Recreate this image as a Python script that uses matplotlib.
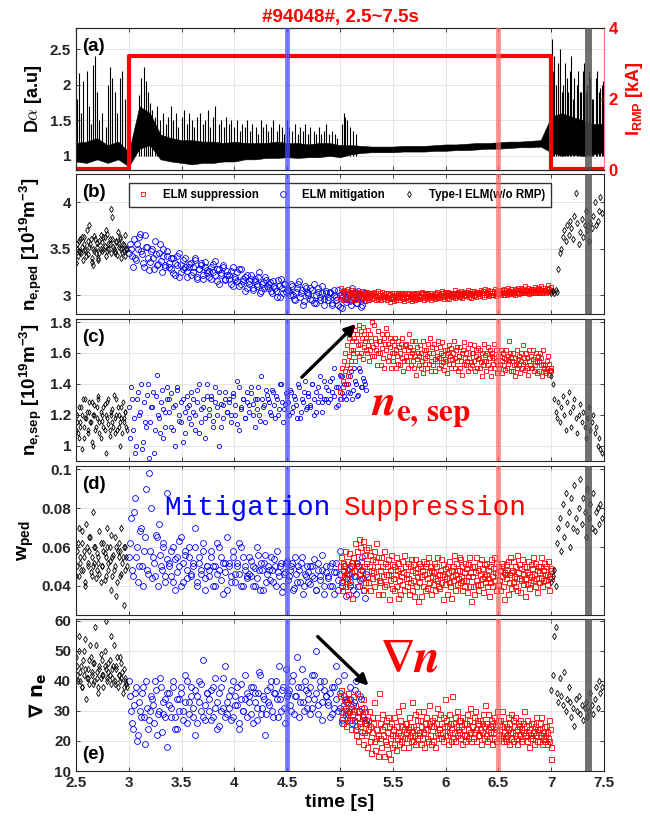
import matplotlib

matplotlib.use("Agg")

import matplotlib.pyplot as plt
import numpy as np
from matplotlib.ticker import FuncFormatter

# ---- panel (a): D-alpha envelope (every 0.1 s) and ELM spikes, RMP coil current
DA_T = np.linspace(2.5, 7.5, 51)
DA_LO = [0.92, 0.9, 0.95, 0.9, 0.95, 0.85, 1.1, 1.15, 0.95, 0.92,
         0.9, 0.88, 0.9, 0.9, 0.92, 0.92, 0.95, 0.95, 0.97, 0.97,
         0.98, 0.97, 0.98, 0.98, 1.0, 0.98, 1.02, 1.04, 1.05, 1.05,
         1.05, 1.06, 1.06, 1.06, 1.07, 1.07, 1.08, 1.08, 1.09, 1.1,
         1.1, 1.11, 1.12, 1.12, 1.13, 1.05, 1.0, 1.02, 1.0, 1.02, 1.05]
DA_HI = [1.18, 1.2, 1.25, 1.15, 1.2, 1.05, 1.7, 1.6, 1.3, 1.25,
         1.22, 1.22, 1.2, 1.2, 1.18, 1.2, 1.18, 1.18, 1.18, 1.2,
         1.18, 1.18, 1.16, 1.18, 1.18, 1.15, 1.15, 1.14, 1.13, 1.13,
         1.13, 1.14, 1.14, 1.14, 1.15, 1.16, 1.16, 1.17, 1.18, 1.18,
         1.19, 1.2, 1.2, 1.21, 1.22, 1.55, 1.6, 1.55, 1.5, 1.45, 1.45]
SPK_T = [2.51, 2.53, 2.55, 2.57, 2.6, 2.62, 2.64, 2.66, 2.68, 2.7, 2.72, 2.75, 2.78,
         2.8, 2.82, 2.84, 2.87, 2.89, 2.92, 2.94, 2.96, 2.98,
         3.1, 3.12, 3.14, 3.16, 3.18, 3.2, 3.22,
         3.25, 3.27, 3.3, 3.32, 3.35, 3.37, 3.4, 3.42, 3.45, 3.47, 3.5, 3.52, 3.55,
         3.57, 3.6, 3.62, 3.65, 3.67, 3.7, 3.72, 3.75, 3.77, 3.8, 3.82, 3.85, 3.87,
         3.9, 3.92, 3.95, 3.97, 4.0, 4.02, 4.05, 4.07, 4.1, 4.12, 4.15, 4.17, 4.2,
         4.22, 4.25, 4.27, 4.3, 4.32, 4.35, 4.37, 4.4, 4.42, 4.45, 4.47, 4.5, 4.52,
         4.55, 4.57, 4.6, 4.62, 4.65, 4.67, 4.7, 4.72, 4.75, 4.77, 4.8, 4.82, 4.85,
         4.87, 4.9, 4.92, 4.95, 4.97,
         5.02, 5.04, 5.05, 5.07, 5.09, 5.12, 5.15,
         7.01, 7.02, 7.03, 7.05, 7.06, 7.08, 7.1, 7.11, 7.13, 7.15, 7.16, 7.18, 7.19,
         7.21, 7.22, 7.24, 7.25, 7.27, 7.28, 7.3, 7.31, 7.33, 7.34, 7.36, 7.37, 7.39,
         7.4, 7.42, 7.43, 7.45, 7.46, 7.48, 7.49]
SPK_V = [1.8, 2.17, 1.6, 2.05, 2.2, 1.7, 1.45, 2.28, 2.4, 1.9, 1.5, 1.6, 1.4,
         2.0, 2.25, 2.1, 1.9, 1.6, 2.1, 2.2, 1.8, 2.05,
         1.85, 2.1, 2.25, 2.05, 1.9, 1.75, 1.65,
         1.55, 1.7, 1.5, 1.6, 1.45, 1.55, 1.7, 1.5, 1.6, 1.4, 1.55, 1.65, 1.45,
         1.6, 1.5, 1.4, 1.55, 1.6, 1.45, 1.5, 1.65, 1.4, 1.55, 1.7, 1.45, 1.5,
         1.4, 1.55, 1.45, 1.5, 1.4, 1.5, 1.35, 1.45, 1.4, 1.5, 1.35, 1.45, 1.4,
         1.3, 1.5, 1.4, 1.45, 1.35, 1.4, 1.5, 1.35, 1.45, 1.4, 1.3, 1.5, 1.4,
         1.35, 1.45, 1.3, 1.4, 1.35, 1.45, 1.3, 1.4, 1.35, 1.3, 1.4, 1.3, 1.35,
         1.45, 1.3, 1.35, 1.3, 1.25,
         1.45, 1.6, 1.55, 1.5, 1.4, 1.35, 1.3,
         2.65, 2.2, 2.4, 2.0, 2.3, 2.5, 1.9, 2.0, 2.3, 2.1, 1.9, 2.2, 2.4,
         1.8, 2.1, 2.0, 2.2, 1.9, 1.9, 2.2, 2.3, 1.9, 2.0, 2.2, 2.1, 1.8,
         1.8, 2.1, 2.2, 1.9, 1.95, 2.0, 2.05]
IRMP_T = [2.5, 3.0, 3.0, 7.0, 7.0, 7.5]
IRMP_V = [0.04, 0.04, 3.2, 3.2, 0.04, 0.04]

# ---- phase time windows: Type-I before RMP, mitigation, suppression, Type-I after
T_PRE = (2.5, 2.98)
T_MIT = (3.0, 5.25)
T_SUP = (5.0, 7.0)
T_POST = (7.0, 7.48)

# ---- (b) n_e,ped  (two sample sets per phase for pre/mitigation)
NPED_PRE = [3.35, 3.55, 3.48, 3.6, 3.45, 3.52, 3.62, 3.5, 3.42, 3.58, 3.75, 3.55, 3.4, 3.33,
            3.47, 3.6, 3.52, 3.38, 3.45, 3.65, 3.57, 3.5, 3.62, 3.7, 3.48, 3.55, 3.6, 3.92,
            3.84, 3.5, 3.45, 3.58, 3.68, 3.52, 3.62, 3.4, 3.55, 3.48, 3.65, 3.5]
NPED_PRE_B = [3.5, 3.42, 3.58, 3.46, 3.62, 3.38, 3.55, 3.48, 3.7, 3.44, 3.52, 3.6, 3.36,
              3.5, 3.64, 3.45, 3.56, 3.4, 3.58, 3.5, 3.47, 3.62, 3.53, 3.42, 3.66, 3.5,
              3.55, 3.45, 3.6, 3.52, 3.48, 3.57, 3.43, 3.55, 3.6, 3.5, 3.46, 3.54, 3.42, 3.5]
NPED_MIT = [3.45, 3.5, 3.3, 3.4, 3.55, 3.62, 3.48, 3.35, 3.65, 3.52,
            3.27, 3.47, 3.4, 3.58, 3.32, 3.45, 3.37, 3.5, 3.3, 3.42,
            3.35, 3.28, 3.4, 3.22, 3.33, 3.45, 3.25, 3.38, 3.3, 3.2,
            3.3, 3.35, 3.25, 3.4, 3.18, 3.28, 3.32, 3.22, 3.36, 3.27,
            3.2, 3.3, 3.25, 3.37, 3.15, 3.28, 3.22, 3.32, 3.18, 3.26,
            3.22, 3.12, 3.3, 3.18, 3.25, 3.1, 3.28, 3.15, 3.2, 3.08,
            3.15, 3.22, 3.08, 3.18, 3.12, 3.25, 3.05, 3.14, 3.2, 3.1,
            3.12, 3.05, 3.15, 3.08, 2.98, 3.1, 3.18, 3.02, 3.12, 3.06,
            3.05, 3.12, 3.0, 2.95, 3.08, 3.15, 3.02, 2.9, 3.1, 3.04,
            3.0, 3.08, 2.95, 3.12, 2.92, 3.04, 2.98, 3.1, 2.96, 3.02,
            2.95, 3.02, 2.92, 3.06, 2.98, 2.9, 3.0, 2.86, 3.04, 2.96,
            3.0, 2.94, 3.08, 2.96, 2.92, 3.05, 2.98, 2.9, 3.02, 2.95]
NPED_MIT_B = [3.55, 3.42, 3.6, 3.38, 3.5, 3.66, 3.44, 3.3, 3.52, 3.4,
              3.36, 3.5, 3.28, 3.44, 3.34, 3.55, 3.25, 3.42, 3.32, 3.48,
              3.3, 3.4, 3.24, 3.35, 3.42, 3.2, 3.32, 3.28, 3.4, 3.26,
              3.34, 3.22, 3.3, 3.38, 3.2, 3.28, 3.35, 3.18, 3.3, 3.24,
              3.26, 3.18, 3.34, 3.22, 3.28, 3.12, 3.24, 3.3, 3.16, 3.22,
              3.18, 3.26, 3.1, 3.2, 3.15, 3.28, 3.12, 3.18, 3.05, 3.22,
              3.12, 3.18, 3.06, 3.15, 3.1, 3.2, 3.02, 3.12, 3.08, 3.16,
              3.08, 3.14, 3.02, 3.1, 3.05, 3.16, 2.98, 3.08, 3.12, 3.04,
              3.06, 3.0, 3.1, 2.96, 3.04, 3.12, 2.98, 3.06, 2.94, 3.08,
              3.02, 2.96, 3.06, 2.92, 3.0, 3.08, 2.95, 3.03, 2.9, 3.05,
              2.98, 3.04, 2.9, 3.0, 2.95, 3.06, 2.88, 2.98, 3.02, 2.93,
              2.96, 3.02, 2.9, 2.98, 3.04, 2.92, 3.0, 2.88, 2.97, 3.03]
NPED_SUP = [2.96, 3.02, 3.08, 2.98, 3.04, 2.95, 3.06, 3.0, 2.97, 3.05,
            3.03, 2.96, 3.07, 2.99, 3.01, 2.94, 3.04, 2.98, 3.06, 3.0,
            2.97, 3.03, 2.99, 3.05, 2.95, 3.01, 2.98, 3.04, 2.96, 3.02,
            3.0, 2.96, 3.03, 2.98, 3.05, 2.97, 3.01, 2.94, 3.02, 2.99,
            2.99, 3.04, 2.97, 3.01, 2.95, 3.03, 2.98, 3.0, 2.96, 3.02,
            3.01, 2.97, 3.04, 2.99, 2.95, 3.02, 2.98, 3.05, 2.96, 3.0,
            2.97, 3.02, 2.95, 3.0, 3.04, 2.98, 2.96, 3.01, 2.99, 3.03,
            2.98, 2.95, 3.02, 2.97, 3.0, 2.93, 3.01, 2.96, 3.03, 2.98,
            2.96, 3.0, 2.94, 2.99, 3.02, 2.95, 2.98, 3.01, 2.97, 3.03,
            2.99, 2.95, 3.01, 2.97, 3.03, 2.96, 3.0, 2.94, 3.02, 2.98,
            2.97, 3.01, 2.95, 2.99, 3.02, 2.96, 2.98, 3.0, 2.94, 3.01,
            2.98, 2.96, 3.02, 2.99, 2.95, 3.01, 2.97, 3.03, 2.96, 2.99,
            3.0, 2.96, 3.02, 2.98, 3.04, 2.97, 3.01, 2.95, 3.03, 2.99,
            2.98, 3.01, 2.96, 3.03, 2.99, 2.97, 3.02, 2.95, 3.0, 2.98,
            2.97, 3.0, 2.99, 3.03, 2.96, 3.01, 2.98, 3.04, 2.97, 3.0,
            3.01, 2.97, 3.03, 2.99, 3.05, 2.98, 3.02, 2.96, 3.04, 3.0,
            2.99, 3.02, 2.97, 3.04, 3.0, 2.96, 3.03, 2.98, 3.01, 2.99,
            2.98, 3.02, 3.0, 3.06, 2.97, 3.03, 2.99, 3.01, 3.04, 2.98,
            3.0, 3.03, 2.98, 3.05, 3.01, 2.97, 3.02, 3.0, 3.04, 2.99,
            3.02, 2.99, 3.04, 3.0, 3.06, 2.98, 3.03, 3.01, 2.97, 3.05,
            3.01, 3.03, 2.99, 3.05, 3.0, 3.02, 2.98, 3.04, 3.01, 3.03,
            3.01, 3.04, 2.99, 3.06, 3.02, 3.0, 3.05, 2.98, 3.03, 3.07,
            3.02, 3.0, 3.04, 3.01, 3.06, 2.99, 3.03, 3.05, 3.0, 3.02,
            3.03, 3.0, 3.05, 3.02, 3.07, 2.99, 3.04, 3.01, 3.06, 3.03,
            3.01, 3.05, 3.02, 3.0, 3.06, 3.03, 3.04, 3.0, 3.07, 3.02,
            3.02, 3.06, 3.0, 3.04, 3.08, 3.01, 3.05, 3.03, 3.07, 3.02,
            3.04, 3.01, 3.05, 3.03, 3.07, 3.0, 3.06, 3.02, 3.04, 3.08,
            3.04, 3.01, 3.06, 3.03, 3.08, 3.02, 3.05, 3.07, 3.03, 3.1,
            3.03, 3.06, 3.02, 3.05, 3.08, 3.04, 3.01, 3.06, 3.03, 3.07,
            3.05, 3.02, 3.07, 3.04, 3.09, 3.03, 3.06, 3.02, 3.05, 3.08,
            3.04, 3.07, 3.03, 3.06, 3.1, 3.02, 3.05, 3.08, 3.04, 3.06,
            3.06, 3.03, 3.08, 3.05, 3.11, 3.04, 3.07, 3.05, 3.09, 3.06]
NPED_POST = [3.02, 3.05, 3.03, 3.06, 3.04, 3.28, 3.45, 3.5, 3.62, 3.7, 3.58, 3.75,
             3.65, 3.8, 3.72, 3.6, 3.85, 4.1, 3.78, 3.55, 3.68, 3.82, 3.62, 3.75,
             3.9, 3.7, 3.58, 3.78, 3.72, 3.85, 4.0, 3.75, 3.8, 3.9, 4.05, 3.88]

# ---- (c) n_e,sep
NSEP_PRE = [1.1, 1.2, 1.05, 1.15, 1.25, 0.98, 1.12, 1.3, 1.18, 1.08, 1.22, 1.15, 1.28, 1.0,
            1.2, 1.1, 1.25, 1.32, 1.15, 1.05, 1.2, 1.12, 1.27, 0.95, 1.18, 1.3, 1.1, 1.22,
            1.15, 1.33, 1.08, 1.2, 1.25, 1.12, 1.0, 1.18, 1.28, 1.15, 1.22, 1.1]
NSEP_PRE_B = [1.15, 1.08, 1.25, 1.12, 1.2, 1.3, 1.05, 1.18, 1.22, 1.1, 1.28, 1.15, 1.02,
              1.2, 1.26, 1.12, 1.18, 1.3, 1.08, 1.22, 1.16, 1.25, 1.1, 1.2, 1.28, 1.14,
              1.06, 1.2, 1.24, 1.12, 1.18, 1.3, 1.1, 1.2, 1.15, 1.25, 1.08, 1.18, 1.22, 1.12]
NSEP_MIT = [1.25, 1.38, 1.1, 0.95, 1.3, 1.2, 1.4, 1.02, 1.15, 1.33,
            0.92, 1.25, 1.35, 1.1, 1.46, 1.18, 1.28, 1.05, 1.22, 1.38,
            1.3, 1.12, 1.25, 1.0, 1.36, 1.2, 1.15, 1.3, 1.08, 1.25,
            1.18, 1.35, 1.22, 1.1, 1.28, 1.4, 1.15, 1.25, 1.05, 1.32,
            1.2, 1.3, 1.12, 1.38, 1.25, 1.0, 1.27, 1.18, 1.35, 1.22,
            1.28, 1.15, 1.32, 1.2, 1.42, 1.1, 1.25, 1.3, 1.18, 1.35,
            1.22, 1.38, 1.27, 1.12, 1.3, 1.2, 1.45, 1.25, 1.15, 1.33,
            1.28, 1.2, 1.35, 1.18, 1.3, 1.24, 1.4, 1.15, 1.27, 1.32,
            1.2, 1.35, 1.25, 1.3, 1.18, 1.38, 1.22, 1.28, 1.42, 1.25,
            1.32, 1.25, 1.4, 1.2, 1.35, 1.28, 1.45, 1.22, 1.3, 1.38,
            1.28, 1.42, 1.35, 1.5, 1.25, 1.38, 1.3, 1.45, 1.32, 1.4,
            1.35, 1.45, 1.3, 1.5, 1.4, 1.33, 1.48, 1.38, 1.42, 1.36]
NSEP_MIT_B = [1.05, 1.3, 1.18, 1.0, 1.35, 1.22, 0.98, 1.28, 1.12, 1.4,
              1.15, 1.25, 0.95, 1.32, 1.2, 1.08, 1.36, 1.24, 1.12, 1.3,
              1.22, 1.34, 1.1, 1.26, 1.38, 1.16, 1.28, 1.02, 1.22, 1.32,
              1.26, 1.14, 1.3, 1.2, 1.36, 1.08, 1.24, 1.3, 1.18, 1.4,
              1.24, 1.32, 1.16, 1.28, 1.2, 1.35, 1.12, 1.26, 1.3, 1.22,
              1.3, 1.2, 1.34, 1.26, 1.14, 1.38, 1.24, 1.3, 1.18, 1.28,
              1.26, 1.34, 1.2, 1.3, 1.24, 1.38, 1.16, 1.3, 1.26, 1.36,
              1.3, 1.22, 1.36, 1.26, 1.32, 1.2, 1.4, 1.28, 1.24, 1.34,
              1.28, 1.36, 1.22, 1.32, 1.26, 1.4, 1.18, 1.3, 1.35, 1.24,
              1.34, 1.26, 1.4, 1.3, 1.22, 1.38, 1.32, 1.28, 1.42, 1.3,
              1.36, 1.3, 1.44, 1.32, 1.38, 1.26, 1.46, 1.34, 1.4, 1.3,
              1.4, 1.34, 1.48, 1.36, 1.42, 1.32, 1.5, 1.38, 1.44, 1.4]
NSEP_SUP = [1.35, 1.3, 1.45, 1.5, 1.38, 1.42, 1.55, 1.48, 1.6, 1.4,
            1.52, 1.65, 1.45, 1.58, 1.7, 1.5, 1.62, 1.55, 1.68, 1.6,
            1.62, 1.7, 1.55, 1.75, 1.68, 1.6, 1.72, 1.65, 1.78, 1.58,
            1.66, 1.74, 1.6, 1.7, 1.56, 1.77, 1.64, 1.72, 1.68, 1.62,
            1.7, 1.6, 1.75, 1.65, 1.55, 1.72, 1.62, 1.68, 1.58, 1.8,
            1.64, 1.78, 1.58, 1.7, 1.62, 1.66, 1.52, 1.74, 1.6, 1.68,
            1.6, 1.68, 1.52, 1.72, 1.63, 1.57, 1.7, 1.5, 1.66, 1.76,
            1.62, 1.72, 1.55, 1.66, 1.58, 1.7, 1.64, 1.5, 1.68, 1.6,
            1.55, 1.65, 1.6, 1.7, 1.5, 1.62, 1.58, 1.68, 1.53, 1.64,
            1.6, 1.52, 1.66, 1.57, 1.7, 1.48, 1.62, 1.55, 1.65, 1.58,
            1.66, 1.55, 1.62, 1.5, 1.72, 1.58, 1.64, 1.52, 1.6, 1.68,
            1.55, 1.62, 1.5, 1.68, 1.58, 1.46, 1.64, 1.56, 1.6, 1.52,
            1.58, 1.65, 1.5, 1.6, 1.55, 1.68, 1.47, 1.62, 1.57, 1.53,
            1.62, 1.5, 1.58, 1.66, 1.53, 1.6, 1.7, 1.55, 1.48, 1.64,
            1.6, 1.52, 1.66, 1.56, 1.48, 1.63, 1.58, 1.55, 1.68, 1.5,
            1.57, 1.64, 1.52, 1.6, 1.67, 1.54, 1.59, 1.49, 1.62, 1.56,
            1.55, 1.62, 1.47, 1.6, 1.53, 1.65, 1.58, 1.5, 1.63, 1.56,
            1.6, 1.53, 1.68, 1.57, 1.5, 1.62, 1.55, 1.64, 1.48, 1.58,
            1.58, 1.5, 1.64, 1.55, 1.6, 1.46, 1.62, 1.53, 1.67, 1.57,
            1.52, 1.6, 1.55, 1.48, 1.63, 1.57, 1.5, 1.66, 1.54, 1.6,
            1.52, 1.6, 1.55, 1.65, 1.48, 1.58, 1.62, 1.5, 1.56, 1.63,
            1.57, 1.5, 1.62, 1.54, 1.45, 1.6, 1.52, 1.66, 1.55, 1.59,
            1.55, 1.48, 1.6, 1.52, 1.64, 1.57, 1.5, 1.62, 1.45, 1.58,
            1.6, 1.53, 1.57, 1.66, 1.5, 1.55, 1.62, 1.47, 1.58, 1.52,
            1.5, 1.58, 1.53, 1.62, 1.47, 1.55, 1.6, 1.52, 1.57, 1.49,
            1.56, 1.62, 1.5, 1.58, 1.53, 1.68, 1.55, 1.6, 1.48, 1.57,
            1.55, 1.48, 1.6, 1.52, 1.57, 1.45, 1.53, 1.62, 1.5, 1.56,
            1.52, 1.58, 1.47, 1.55, 1.6, 1.5, 1.65, 1.53, 1.57, 1.49,
            1.54, 1.6, 1.5, 1.57, 1.46, 1.55, 1.62, 1.52, 1.58, 1.5,
            1.5, 1.56, 1.62, 1.48, 1.55, 1.52, 1.6, 1.47, 1.54, 1.58,
            1.55, 1.48, 1.6, 1.52, 1.57, 1.45, 1.53, 1.62, 1.5, 1.48,
            1.52, 1.47, 1.55, 1.5, 1.58, 1.46, 1.53, 1.49, 1.5, 1.48]
NSEP_POST = [1.45, 1.4, 1.3, 1.22, 1.18, 1.28, 1.15, 1.25, 1.32, 1.2, 1.1, 1.28,
             1.35, 1.22, 1.12, 1.25, 1.3, 1.18, 1.08, 1.2, 1.27, 1.15, 1.22, 1.12,
             1.05, 1.18, 1.25, 1.1, 1.15, 1.2, 1.08, 1.12, 1.0, 1.05, 0.98, 0.95]

# ---- (d) w_ped
WPED_PRE = [0.045, 0.058, 0.07, 0.052, 0.048, 0.062, 0.055, 0.04, 0.072, 0.05,
            0.058, 0.065, 0.045, 0.078, 0.052, 0.06, 0.048, 0.055, 0.068, 0.042,
            0.05, 0.062, 0.057, 0.045, 0.07, 0.052, 0.06, 0.038, 0.055, 0.048,
            0.065, 0.035, 0.058, 0.062, 0.045, 0.07, 0.055, 0.03, 0.06, 0.05]
WPED_PRE_B = [0.05, 0.062, 0.045, 0.055, 0.068, 0.048, 0.058, 0.042, 0.06, 0.052,
              0.065, 0.047, 0.055, 0.05, 0.06, 0.044, 0.057, 0.052, 0.046, 0.062,
              0.05, 0.058, 0.043, 0.055, 0.06, 0.048, 0.053, 0.066, 0.045, 0.056,
              0.05, 0.06, 0.042, 0.055, 0.058, 0.046, 0.052, 0.06, 0.048, 0.055]
WPED_MIT = [0.055, 0.075, 0.045, 0.085, 0.06, 0.05, 0.07, 0.04, 0.065, 0.048,
            0.098, 0.08, 0.055, 0.045, 0.065, 0.072, 0.05, 0.06, 0.042, 0.088,
            0.052, 0.045, 0.06, 0.038, 0.055, 0.05, 0.065, 0.042, 0.058, 0.048,
            0.06, 0.045, 0.052, 0.07, 0.04, 0.055, 0.048, 0.062, 0.044, 0.05,
            0.045, 0.058, 0.05, 0.04, 0.062, 0.048, 0.055, 0.036, 0.052, 0.065,
            0.05, 0.042, 0.058, 0.046, 0.052, 0.062, 0.04, 0.055, 0.048, 0.045,
            0.055, 0.045, 0.05, 0.04, 0.06, 0.048, 0.052, 0.038, 0.056, 0.046,
            0.048, 0.055, 0.042, 0.05, 0.058, 0.045, 0.052, 0.04, 0.047, 0.053,
            0.045, 0.05, 0.038, 0.055, 0.042, 0.048, 0.052, 0.036, 0.046, 0.05,
            0.042, 0.05, 0.045, 0.054, 0.038, 0.048, 0.043, 0.056, 0.04, 0.047,
            0.045, 0.04, 0.052, 0.036, 0.047, 0.043, 0.058, 0.04, 0.05, 0.044,
            0.048, 0.04, 0.052, 0.045, 0.036, 0.05, 0.043, 0.055, 0.038, 0.046]
WPED_MIT_B = [0.062, 0.048, 0.078, 0.055, 0.042, 0.068, 0.05, 0.058, 0.09, 0.046,
              0.058, 0.044, 0.052, 0.066, 0.04, 0.056, 0.048, 0.062, 0.045, 0.054,
              0.05, 0.058, 0.042, 0.054, 0.047, 0.063, 0.04, 0.052, 0.056, 0.044,
              0.055, 0.046, 0.05, 0.06, 0.042, 0.052, 0.046, 0.058, 0.038, 0.05,
              0.048, 0.055, 0.04, 0.05, 0.046, 0.06, 0.043, 0.052, 0.047, 0.038,
              0.052, 0.045, 0.055, 0.042, 0.05, 0.046, 0.06, 0.04, 0.05, 0.044,
              0.046, 0.053, 0.04, 0.049, 0.044, 0.056, 0.038, 0.048, 0.052, 0.042,
              0.05, 0.043, 0.048, 0.054, 0.04, 0.047, 0.05, 0.037, 0.046, 0.052,
              0.043, 0.048, 0.052, 0.039, 0.046, 0.05, 0.042, 0.055, 0.04, 0.045,
              0.047, 0.041, 0.05, 0.044, 0.038, 0.052, 0.045, 0.048, 0.036, 0.05,
              0.044, 0.05, 0.04, 0.047, 0.052, 0.038, 0.046, 0.042, 0.05, 0.035,
              0.046, 0.042, 0.05, 0.038, 0.045, 0.052, 0.04, 0.048, 0.044, 0.034]
WPED_SUP = [0.05, 0.042, 0.055, 0.038, 0.048, 0.052, 0.045, 0.058, 0.04, 0.046,
            0.044, 0.053, 0.036, 0.049, 0.057, 0.041, 0.047, 0.05, 0.034, 0.055,
            0.055, 0.048, 0.062, 0.045, 0.052, 0.058, 0.04, 0.05, 0.064, 0.046,
            0.06, 0.044, 0.053, 0.048, 0.063, 0.038, 0.056, 0.05, 0.042, 0.059,
            0.052, 0.045, 0.06, 0.042, 0.05, 0.056, 0.038, 0.048, 0.054, 0.044,
            0.047, 0.058, 0.04, 0.053, 0.062, 0.045, 0.05, 0.036, 0.055, 0.043,
            0.048, 0.042, 0.055, 0.036, 0.05, 0.045, 0.058, 0.04, 0.052, 0.046,
            0.041, 0.05, 0.046, 0.054, 0.033, 0.048, 0.043, 0.056, 0.039, 0.051,
            0.044, 0.05, 0.038, 0.046, 0.055, 0.04, 0.048, 0.034, 0.052, 0.043,
            0.049, 0.036, 0.045, 0.053, 0.041, 0.047, 0.056, 0.038, 0.05, 0.044,
            0.046, 0.04, 0.052, 0.044, 0.036, 0.05, 0.042, 0.054, 0.038, 0.048,
            0.043, 0.051, 0.035, 0.047, 0.054, 0.04, 0.045, 0.049, 0.032, 0.052,
            0.042, 0.05, 0.045, 0.035, 0.048, 0.053, 0.04, 0.046, 0.05, 0.038,
            0.052, 0.044, 0.039, 0.055, 0.047, 0.042, 0.05, 0.036, 0.048, 0.045,
            0.047, 0.041, 0.052, 0.044, 0.038, 0.05, 0.043, 0.055, 0.04, 0.046,
            0.039, 0.048, 0.054, 0.042, 0.046, 0.033, 0.051, 0.045, 0.049, 0.041,
            0.044, 0.05, 0.036, 0.047, 0.042, 0.053, 0.04, 0.048, 0.034, 0.045,
            0.05, 0.043, 0.056, 0.038, 0.046, 0.052, 0.041, 0.048, 0.044, 0.055,
            0.048, 0.042, 0.054, 0.045, 0.038, 0.05, 0.043, 0.047, 0.04, 0.052,
            0.043, 0.049, 0.037, 0.051, 0.045, 0.055, 0.04, 0.047, 0.032, 0.05,
            0.045, 0.04, 0.05, 0.036, 0.047, 0.043, 0.055, 0.041, 0.048, 0.038,
            0.052, 0.046, 0.041, 0.054, 0.044, 0.049, 0.037, 0.051, 0.045, 0.042,
            0.046, 0.052, 0.04, 0.048, 0.044, 0.035, 0.05, 0.042, 0.054, 0.045,
            0.04, 0.049, 0.055, 0.043, 0.047, 0.038, 0.052, 0.046, 0.041, 0.05,
            0.043, 0.048, 0.038, 0.05, 0.045, 0.052, 0.04, 0.047, 0.033, 0.046,
            0.051, 0.044, 0.048, 0.036, 0.053, 0.046, 0.042, 0.055, 0.039, 0.047,
            0.048, 0.042, 0.053, 0.045, 0.04, 0.05, 0.044, 0.056, 0.038, 0.047,
            0.044, 0.051, 0.037, 0.049, 0.043, 0.054, 0.046, 0.041, 0.05, 0.035,
            0.044, 0.05, 0.041, 0.047, 0.053, 0.039, 0.046, 0.042, 0.051, 0.045,
            0.049, 0.043, 0.055, 0.046, 0.04, 0.052, 0.044, 0.048, 0.037, 0.05,
            0.047, 0.042, 0.05, 0.044, 0.055, 0.04, 0.048, 0.043, 0.052, 0.046,
            0.043, 0.05, 0.046, 0.041, 0.053, 0.045, 0.038, 0.049, 0.044, 0.048]
WPED_POST = [0.042, 0.045, 0.048, 0.04, 0.062, 0.07, 0.075, 0.058, 0.082, 0.065,
             0.088, 0.072, 0.078, 0.06, 0.085, 0.07, 0.092, 0.075, 0.068, 0.08,
             0.095, 0.072, 0.085, 0.078, 0.065, 0.09, 0.075, 0.082, 0.07, 0.088,
             0.068, 0.078, 0.08, 0.072, 0.082, 0.075]

# ---- (e) grad n_e
GRAD_PRE = [48, 42, 55, 40, 45, 38, 50, 44, 34, 41, 47, 52, 43, 39, 46, 58, 41, 36, 44, 49,
            42, 38, 45, 60, 41, 43, 47, 39, 44, 52, 40, 45, 38, 42, 48, 41, 36, 44, 40, 38]
GRAD_PRE_B = [45, 40, 50, 43, 38, 47, 42, 54, 41, 44, 39, 48, 42, 46, 40, 52, 43, 38, 45, 41,
              47, 42, 50, 44, 40, 46, 42, 55, 41, 45, 39, 44, 48, 42, 40, 46, 43, 38, 41, 39]
GRAD_MIT = [40, 30, 24, 36, 20, 33, 28, 38, 19, 31, 27, 35, 32, 40, 22, 30, 38, 29, 34, 18,
            36, 31, 40, 28, 24, 34, 38, 30, 42, 26, 33, 38, 28, 22, 35, 40, 30, 47, 27, 36,
            30, 37, 28, 41, 33, 25, 38, 31, 45, 29, 35, 27, 40, 32, 38, 24, 34, 30, 42, 28,
            33, 38, 26, 36, 31, 43, 29, 35, 22, 37, 32, 40, 28, 36, 34, 45, 30, 38, 26, 35,
            37, 30, 42, 35, 48, 28, 38, 33, 40, 31, 36, 29, 42, 34, 50, 32, 38, 27, 40, 35,
            33, 28, 38, 31, 45, 30, 36, 26, 42, 34, 30, 38, 26, 33, 40, 28, 35, 23, 31, 27]
GRAD_MIT_B = [35, 26, 32, 38, 22, 30, 36, 28, 40, 24, 30, 34, 26, 37, 29, 41, 23, 33, 28, 36,
              32, 28, 38, 24, 34, 30, 36, 27, 33, 40, 29, 35, 31, 37, 26, 33, 39, 28, 32, 36,
              34, 27, 38, 31, 24, 36, 30, 41, 28, 33, 31, 37, 28, 35, 32, 26, 39, 30, 34, 36,
              35, 29, 38, 33, 27, 36, 42, 31, 34, 29, 33, 38, 30, 36, 40, 28, 34, 37, 31, 44,
              36, 32, 40, 29, 35, 38, 33, 44, 30, 37, 34, 38, 31, 42, 36, 29, 40, 33, 37, 35,
              32, 36, 29, 38, 34, 40, 31, 27, 35, 33, 29, 34, 27, 32, 37, 25, 30, 34, 28, 26]
GRAD_SUP = [35, 30, 37, 28, 32, 26, 34, 29, 31, 25, 33, 28, 36, 30, 27, 34, 24, 31, 29, 35,
            30, 27, 24, 32, 22, 28, 36, 20, 26, 30, 25, 31, 22, 29, 34, 19, 27, 23, 30, 26,
            22, 18, 27, 24, 30, 20, 25, 16, 23, 28, 26, 20, 33, 17, 24, 21, 28, 15, 22, 36,
            21, 26, 18, 24, 29, 22, 15, 25, 20, 27, 19, 23, 28, 16, 25, 21, 14, 26, 22, 18,
            24, 19, 28, 22, 17, 25, 21, 30, 23, 19, 27, 22, 20, 25, 32, 18, 24, 21, 26, 23,
            26, 21, 24, 18, 28, 22, 25, 20, 33, 23, 20, 25, 22, 29, 19, 24, 27, 21, 30, 23,
            22, 27, 19, 25, 21, 30, 23, 18, 26, 24, 28, 21, 24, 20, 26, 32, 22, 25, 19, 27,
            20, 25, 28, 22, 18, 26, 23, 31, 21, 24, 24, 29, 21, 26, 23, 20, 28, 25, 22, 34,
            27, 22, 25, 19, 29, 23, 26, 20, 24, 35, 21, 26, 23, 28, 20, 25, 30, 22, 24, 27,
            23, 27, 21, 25, 19, 28, 24, 22, 26, 20, 26, 22, 29, 24, 21, 27, 23, 31, 20, 25,
            25, 21, 28, 23, 30, 20, 24, 27, 22, 26, 22, 27, 24, 19, 26, 23, 29, 21, 25, 32,
            22, 26, 20, 24, 29, 21, 25, 23, 27, 19, 26, 23, 28, 21, 25, 20, 24, 30, 22, 27,
            24, 21, 27, 22, 25, 30, 20, 23, 26, 21, 20, 25, 22, 28, 24, 19, 26, 23, 21, 29,
            23, 27, 20, 25, 22, 28, 21, 24, 19, 26, 25, 22, 27, 20, 24, 21, 26, 23, 30, 22,
            22, 25, 20, 27, 23, 18, 24, 21, 26, 22, 21, 26, 23, 19, 25, 22, 28, 20, 24, 23,
            24, 20, 26, 22, 28, 19, 23, 21, 25, 20, 22, 25, 19, 23, 21, 27, 20, 24, 18, 14]
GRAD_POST = [37, 42, 55, 58, 36, 33, 41, 35, 32, 43, 30, 34, 38, 33, 28, 31, 25, 34,
             30, 35, 29, 32, 27, 31, 33, 28, 30, 36, 32, 29, 34, 38, 31, 40, 36, 38]

LEGEND_LABELS = ["ELM suppression", "ELM mitigation", "Type-I ELM(w/o RMP)"]

plt.rcParams["font.family"] = ["Liberation Sans", "DejaVu Sans"]
plt.rcParams["font.weight"] = "bold"
plt.rcParams["axes.labelweight"] = "bold"
plt.rcParams["mathtext.fontset"] = "custom"
plt.rcParams["mathtext.rm"] = "Liberation Sans:bold"
plt.rcParams["mathtext.bf"] = "Liberation Sans:bold"
plt.rcParams["mathtext.it"] = "Liberation Sans:bold"
plt.rcParams["axes.linewidth"] = 0.8
plt.rcParams["axes.edgecolor"] = "#262626"

BLUE_BAND = (0.3, 0.3, 1.0)
RED_BAND = (1.0, 0.4, 0.4)
GREY_BAND = (0.3, 0.3, 0.3)

fmt = FuncFormatter(lambda v, p: f"{v:g}")


def _style(ax, yticks, ylim, show_x=False):
    ax.set_xlim(2.5, 7.5)
    ax.set_ylim(*ylim)
    ax.set_xticks(np.arange(2.5, 7.51, 0.5))
    ax.set_yticks(yticks)
    ax.xaxis.set_major_formatter(fmt)
    ax.yaxis.set_major_formatter(fmt)
    ax.tick_params(direction="in", length=3, width=0.6, top=True, right=True,
                   labelsize=11, colors="#262626", labelcolor="#262626")
    if not show_x:
        ax.tick_params(labelbottom=False)
    ax.grid(True, color="#e2e2e2", lw=0.6)
    ax.set_axisbelow(True)


def _bands(ax):
    ax.axvline(4.5, color=BLUE_BAND, alpha=0.75, lw=3.5, zorder=6)
    ax.axvline(6.5, color=RED_BAND, alpha=0.7, lw=3.5, zorder=6)
    ax.axvline(7.35, color=GREY_BAND, alpha=0.8, lw=5, zorder=6)


def _scatter(ax, pre, pre_b, mit, mit_b, sup, post, ms_c, ms_s, ms_d):
    kw = dict(ls="none", mfc="none", mew=0.6)
    blue = dict(color="b", mec="b", ms=ms_c, **kw)
    black = dict(color="k", mec="k", ms=ms_d, **kw)
    hb = ax.plot(np.linspace(*T_MIT, len(mit)), mit, "o", **blue)[0]
    ax.plot(np.linspace(3.01, 5.24, len(mit_b)), mit_b, "o", **blue)
    hr = ax.plot(np.linspace(*T_SUP, len(sup)), sup, "s", color="r", mec="r", ms=ms_s, **kw)[0]
    hk = ax.plot(np.linspace(*T_PRE, len(pre)), pre, "d", **black)[0]
    ax.plot(np.linspace(2.505, 2.975, len(pre_b)), pre_b, "d", **black)
    ax.plot(np.linspace(*T_POST, len(post)), post, "d", **black)
    return hr, hb, hk


def _tag(ax, s, y=0.93, va="top"):
    ax.text(0.012, y, s, transform=ax.transAxes, fontsize=13.5, fontweight="bold",
            va=va, ha="left", zorder=8)


fig = plt.figure(figsize=(6.5, 8.22), dpi=100)
L, W = 76 / 650, 528 / 650
boxes = [(28, 170), (174, 314), (319, 461), (466, 615), (619, 771)]
axes = [fig.add_axes([L, 1 - b / 822, W, (b - t) / 822]) for t, b in boxes]
ax_a, ax_b, ax_c, ax_d, ax_e = axes

# (a)
ax_a.fill_between(DA_T, DA_LO, DA_HI, color="k", lw=0.4)
ax_a.vlines(SPK_T, 1.0, SPK_V, color="k", lw=0.8)
_style(ax_a, [1, 1.5, 2, 2.5], (0.8, 2.8))
ax_a.tick_params(right=False)
ax_a.set_ylabel(r"D$\alpha$ [a.u]", fontsize=13, math_fontfamily="cm")
ax_r = ax_a.twinx()
ax_r.plot(IRMP_T, IRMP_V, color="r", lw=3)
ax_r.set_ylim(0, 4)
ax_r.set_yticks([0, 2, 4])
ax_r.tick_params(direction="in", length=3, colors="r", labelsize=12)
ax_r.spines["right"].set_color((1, 0.5, 0.5))
ax_r.set_ylabel(r"I$_{\mathbf{RMP}}$ [kA]", color="r", fontsize=13)
_bands(ax_r)
_tag(ax_a, "(a)")
ax_a.set_title("#94048#, 2.5~7.5s", color="r", fontsize=13.5, fontweight="bold", pad=4)

# (b)
h = _scatter(ax_b, NPED_PRE, NPED_PRE_B, NPED_MIT, NPED_MIT_B, NPED_SUP, NPED_POST,
             4.2, 3.0, 3.2)
_style(ax_b, [3, 3.5, 4], (2.8, 4.3))
_bands(ax_b)
ax_b.set_ylabel(r"n$_{\mathbf{e{,}ped}}$ [10$^{\mathbf{19}}$m$^{\mathbf{-3}}$]",
                fontsize=13.5)
ax_b.legend(h, LEGEND_LABELS, loc="upper center", bbox_to_anchor=(0.5, 0.975), ncol=3,
            fontsize=8.3, fancybox=False, edgecolor="#333333", framealpha=1,
            handlelength=1.4, columnspacing=1.4, handletextpad=1.0, borderpad=0.5)
_tag(ax_b, "(b)")

# (c)
_scatter(ax_c, NSEP_PRE, NSEP_PRE_B, NSEP_MIT, NSEP_MIT_B, NSEP_SUP, NSEP_POST,
         3.0, 2.6, 2.8)
_style(ax_c, [1, 1.2, 1.4, 1.6, 1.8], (0.9, 1.82))
_bands(ax_c)
ax_c.set_ylabel(r"n$_{\mathbf{e{,}sep}}$ [10$^{\mathbf{19}}$m$^{\mathbf{-3}}$]",
                fontsize=13.5)
ax_c.annotate("", xy=(5.17, 1.80), xytext=(4.62, 1.43),
              arrowprops=dict(arrowstyle="-|>", lw=2.4, color="k", mutation_scale=16),
              zorder=9)
ax_c.text(5.29, 1.2, r"$n_{\mathrm{e,\,sep}}$", color="r", fontsize=32,
          fontweight="normal", math_fontfamily="stix", zorder=9)
_tag(ax_c, "(c)")

# (d)
_scatter(ax_d, WPED_PRE, WPED_PRE_B, WPED_MIT, WPED_MIT_B, WPED_SUP, WPED_POST,
         4.2, 3.6, 3.2)
_style(ax_d, [0.04, 0.06, 0.08, 0.1], (0.025, 0.1017))
_bands(ax_d)
ax_d.set_ylabel(r"w$_{\mathbf{ped}}$", fontsize=14)
ax_d.text(3.34, 0.0766, "Mitigation", color="b", fontsize=20, fontweight="normal",
          family="Liberation Mono", zorder=9)
ax_d.text(5.04, 0.0766, "Suppression", color="r", fontsize=20, fontweight="normal",
          family="Liberation Mono", zorder=9)
_tag(ax_d, "(d)")

# (e)
_scatter(ax_e, GRAD_PRE, GRAD_PRE_B, GRAD_MIT, GRAD_MIT_B, GRAD_SUP, GRAD_POST,
         4.2, 3.6, 3.2)
_style(ax_e, [10, 20, 30, 40, 50, 60], (10, 60.5), show_x=True)
_bands(ax_e)
ax_e.set_ylabel(r"$\mathbf{\nabla\ n_e}$", fontsize=14, math_fontfamily="dejavusans")
ax_e.set_xlabel("time [s]", fontsize=14, labelpad=3)
ax_e.annotate("", xy=(5.29, 37.7), xytext=(4.77, 55.3),
              arrowprops=dict(arrowstyle="-|>", lw=2.4, color="k", mutation_scale=16),
              zorder=9)
ax_e.text(5.39, 43.2, r"$\nabla n$", color="r", fontsize=34, fontweight="normal",
          math_fontfamily="stix", zorder=9)
_tag(ax_e, "(e)", y=0.05, va="bottom")

fig.savefig("out.png", dpi=100)
